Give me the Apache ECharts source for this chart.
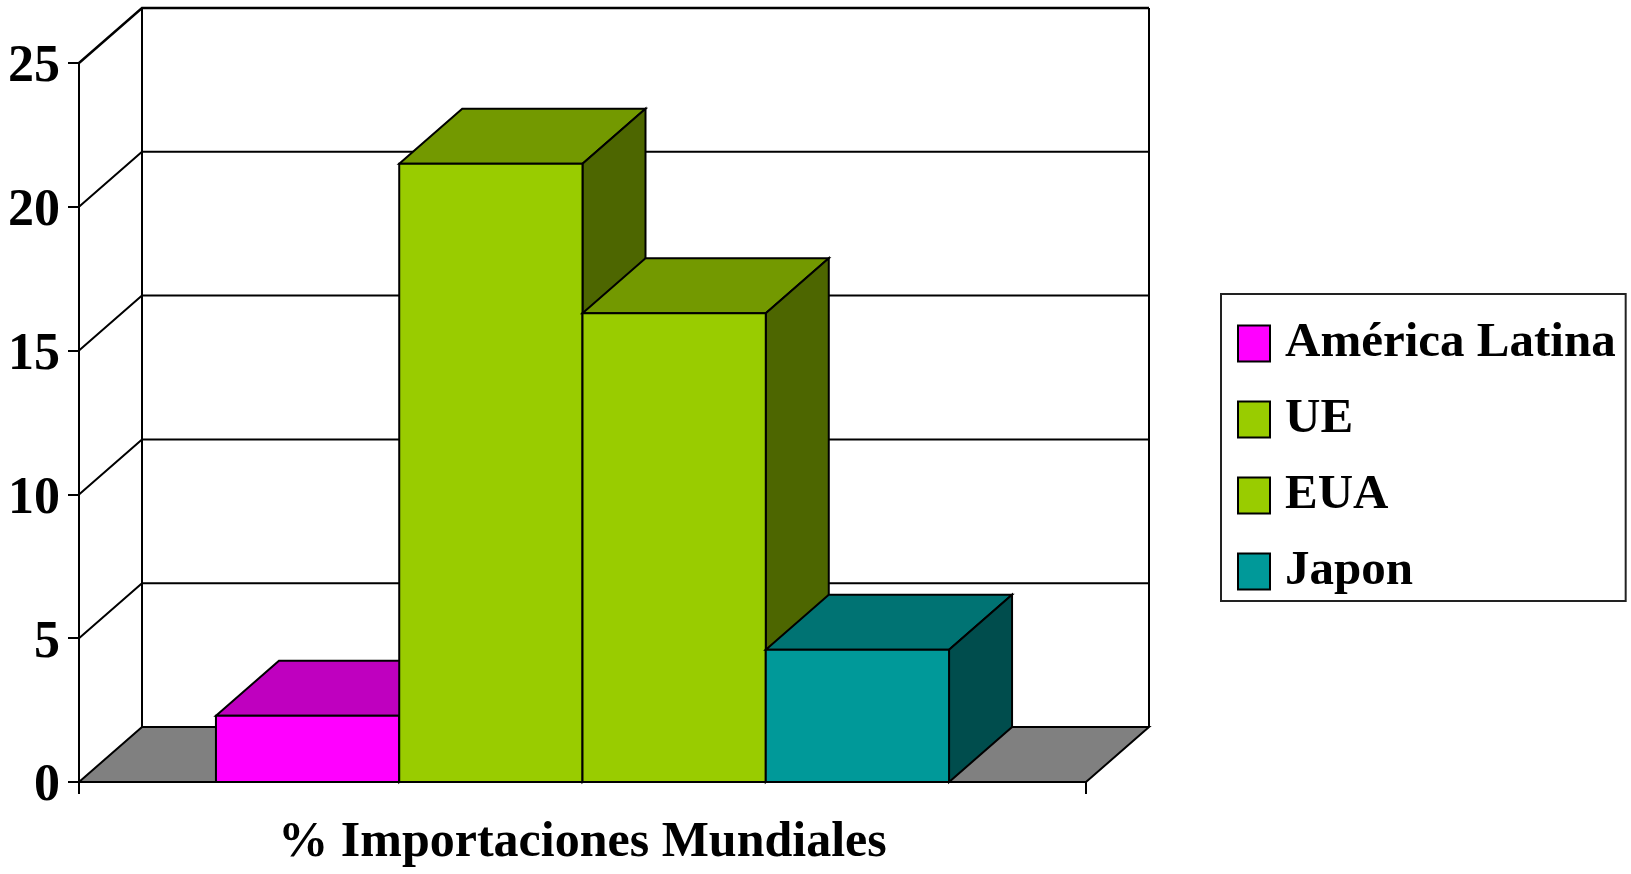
<!DOCTYPE html>
<html><head><meta charset="utf-8">
<script src="https://cdn.jsdelivr.net/npm/echarts@6/dist/echarts.min.js"></script>
<style>html,body{margin:0;padding:0;background:#fff}#c{width:1631px;height:874px}</style>
</head><body><div id="c"></div>
<script>
const categories = ['% Importaciones Mundiales'];
const seriesNames = ['América Latina', 'UE', 'EUA', 'Japon'];
const values = [2.3, 21.5, 16.3, 4.6];
const yTicks = [0, 5, 10, 15, 20, 25];
const frontColors = ['#FF00FF', '#99CC00', '#99CC00', '#009999'];
const topColors = ['#BF00BF', '#739900', '#739900', '#007373'];
const sideColors = ['#800080', '#4D6600', '#4D6600', '#004D4D'];

const DX = 63, DY = 55;
const BAR_FRACTION = 0.182;
const FONT = '"Liberation Serif", "Times New Roman", serif';
const EDGE = { stroke: '#000', lineWidth: 2 };

function renderWalls(params, api) {
  const cs = params.coordSys;
  const x0 = cs.x, x1 = cs.x + cs.width;
  const yZero = api.coord([0, yTicks[0]])[1];
  const yTop = api.coord([0, yTicks[yTicks.length - 1]])[1];
  const children = [];
  children.push({ type: 'polygon', shape: { points: [[x0, yZero], [x1, yZero], [x1 + DX, yZero - DY], [x0 + DX, yZero - DY]] },
    style: Object.assign({ fill: '#808080' }, EDGE) });
  children.push({ type: 'line', shape: { x1: x0 + DX, y1: yTop - DY, x2: x0 + DX, y2: yZero - DY }, style: Object.assign({}, EDGE) });
  children.push({ type: 'line', shape: { x1: x1 + DX, y1: yTop - DY, x2: x1 + DX, y2: yZero - DY }, style: Object.assign({}, EDGE) });
  yTicks.forEach(function (v) {
    if (v === yTicks[0]) return;
    const y = api.coord([0, v])[1];
    children.push({ type: 'polyline', shape: { points: [[x0, y], [x0 + DX, y - DY], [x1 + DX, y - DY]] },
      style: { stroke: '#000', lineWidth: v === yTicks[yTicks.length - 1] ? 2.5 : 2, fill: null } });
  });
  return { type: 'group', children: children };
}

function makeBarRenderer(idx) {
  return function (params, api) {
    const cat = api.value(0);
    const v = api.value(1);
    const base = api.coord([cat, 0]);
    const topPt = api.coord([cat, v]);
    const band = api.size([1, 0])[0];
    const bw = band * BAR_FRACTION;
    const left = base[0] - bw * seriesNames.length / 2 + idx * bw;
    const right = left + bw;
    const yb = base[1], yt = topPt[1];
    return { type: 'group', children: [
      { type: 'polygon', shape: { points: [[left, yt], [right, yt], [right + DX, yt - DY], [left + DX, yt - DY]] },
        style: Object.assign({ fill: topColors[idx] }, EDGE) },
      { type: 'polygon', shape: { points: [[right, yt], [right + DX, yt - DY], [right + DX, yb - DY], [right, yb]] },
        style: Object.assign({ fill: sideColors[idx] }, EDGE) },
      { type: 'rect', shape: { x: left, y: yt, width: bw, height: yb - yt },
        style: Object.assign({ fill: frontColors[idx] }, EDGE) }
    ] };
  };
}

const series = [{
  type: 'custom', name: '_walls', silent: true, z: 1,
  data: [[0, 0]], renderItem: renderWalls
}];
seriesNames.forEach(function (name, i) {
  series.push({
    type: 'custom', name: name, z: 2 + i,
    itemStyle: { color: frontColors[i] },
    data: [[0, values[i]]],
    renderItem: makeBarRenderer(i)
  });
});

const chart = echarts.init(document.getElementById('c'), null, { renderer: 'canvas' });
chart.setOption({
  animation: false,
  backgroundColor: '#fff',
  textStyle: { fontFamily: FONT },
  grid: { left: 79, right: 545, top: 63, bottom: 92, containLabel: false },
  legend: {
    data: seriesNames, orient: 'vertical', left: 1221, top: 294,
    padding: [25, 10, 5, 16], itemGap: 27, itemWidth: 32, itemHeight: 36,
    borderColor: '#222', borderWidth: 2, icon: 'rect',
    itemStyle: { borderColor: '#000', borderWidth: 2 },
    textStyle: { fontFamily: FONT, fontWeight: 'bold', fontSize: 49, color: '#000', lineHeight: 36, padding: [0, 0, 0, 10] }
  },
  xAxis: {
    type: 'category', data: categories, boundaryGap: true,
    axisLine: { show: true, lineStyle: { color: '#000', width: 2 } },
    axisTick: { show: true, length: 12, lineStyle: { color: '#000', width: 2 } },
    axisLabel: { fontFamily: FONT, fontWeight: 'bold', fontSize: 50, color: '#000', margin: 36 },
    splitLine: { show: false }
  },
  yAxis: {
    type: 'value', min: yTicks[0], max: yTicks[yTicks.length - 1], interval: 5,
    axisLine: { show: true, lineStyle: { color: '#000', width: 2 } },
    axisTick: { show: true, length: 11, lineStyle: { color: '#000', width: 2 } },
    axisLabel: { fontFamily: FONT, fontWeight: 'bold', fontSize: 52, color: '#000', margin: 19, verticalAlign: 'top', lineHeight: 10 },
    splitLine: { show: false }
  },
  series: series
});
</script>
</body></html>
